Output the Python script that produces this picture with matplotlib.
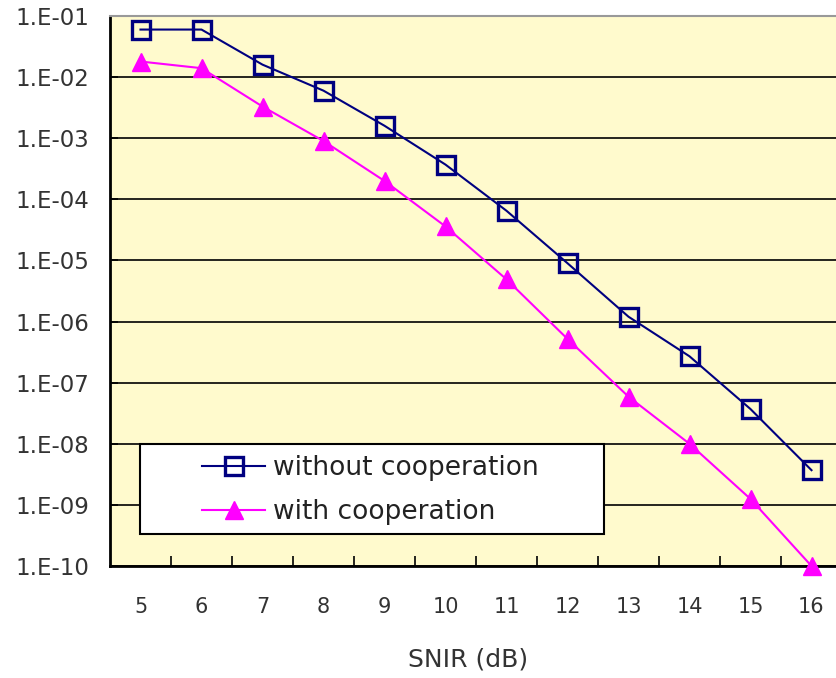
import matplotlib
matplotlib.use("Agg")
import matplotlib.pyplot as plt
from matplotlib.patches import Rectangle
from matplotlib.ticker import FixedLocator, NullFormatter

plt.rcParams['font.family'] = ['DejaVu Sans']

snir = [5, 6, 7, 8, 9, 10, 11, 12, 13, 14, 15, 16]
ber_without = [6.0e-2, 6.0e-2, 1.6e-2, 6.0e-3, 1.6e-3, 3.7e-4,
               6.5e-5, 9.0e-6, 1.2e-6, 2.7e-7, 3.7e-8, 3.7e-9]
ber_with = [1.8e-2, 1.4e-2, 3.3e-3, 9.0e-4, 2.0e-4, 3.6e-5,
            4.9e-6, 5.2e-7, 5.9e-8, 1.0e-8, 1.25e-9, 1.0e-10]
decades = [1e-10, 1e-9, 1e-8, 1e-7, 1e-6, 1e-5, 1e-4, 1e-3, 1e-2, 1e-1]
decade_labels = ["1.E-10", "1.E-09", "1.E-08", "1.E-07", "1.E-06",
                 "1.E-05", "1.E-04", "1.E-03", "1.E-02", "1.E-01"]

W, H = 836, 678
x0, y0, aw, ah = 110, 112, 732, 550

fig = plt.figure(figsize=(W / 100, H / 100), dpi=100)
ax = fig.add_axes([x0 / W, y0 / H, aw / W, ah / H])
ax.set_facecolor("#FFFACD")

pos = list(range(len(snir)))
ax.plot(pos, ber_without, color="#000080", lw=1.5, marker="s", ms=12.5,
        mfc="none", mec="#000080", mew=2.4, clip_on=False,
        label="without cooperation", zorder=4)
ax.plot(pos, ber_with, color="#FF00FF", lw=1.5, marker="^", ms=13.5,
        mfc="#FF00FF", mec="#FF00FF", clip_on=False,
        label="with cooperation", zorder=4)

ax.set_yscale("log")
ax.set_ylim(1e-10, 1e-1)
ax.set_xlim(-0.5, len(snir) - 0.5)

ax.yaxis.set_major_locator(FixedLocator(decades))
ax.yaxis.set_minor_locator(FixedLocator([]))
ax.set_yticklabels(decade_labels)
ax.set_xticks(pos)
ax.set_xticklabels([str(s) for s in snir])
ax.xaxis.set_minor_locator(FixedLocator([p + 0.5 for p in pos[:-1]]))
ax.xaxis.set_minor_formatter(NullFormatter())

ax.grid(axis="y", color="black", lw=1.2, zorder=1)
ax.tick_params(axis="x", which="major", length=0, pad=22,
               labelsize=15, labelcolor="#333333")
ax.tick_params(axis="x", which="minor", direction="in", length=7, width=1.2)
ax.tick_params(axis="y", which="major", direction="in", length=6, width=1.2,
               pad=15, labelsize=16.5, labelcolor="#333333")

for side in ("left", "bottom"):
    ax.spines[side].set_linewidth(2)
    ax.spines[side].set_color("black")
ax.spines["top"].set_color("#999999")
ax.spines["top"].set_linewidth(1.5)
ax.spines["right"].set_visible(False)

ax.set_xlabel("SNIR (dB)", fontsize=18, color="#333333")
ax.xaxis.set_label_coords((468 - x0) / aw, -(648 - 566) / ah)

# white legend box, legend itself sits frameless inside it
box = Rectangle(((140 - x0) / aw, (566 - 534) / ah), 464 / aw, 90 / ah,
                transform=ax.transAxes, facecolor="white", edgecolor="black",
                lw=1.5, zorder=5)
ax.add_patch(box)
leg = ax.legend(loc="upper left",
                bbox_to_anchor=((202 - x0) / aw, (566 - 455) / ah),
                fontsize=19, frameon=False, handlelength=2.4, borderpad=0,
                labelspacing=0.7, handletextpad=0.3, borderaxespad=0)
leg.set_zorder(6)
for t in leg.get_texts():
    t.set_color("#222222")

fig.savefig("out.png", dpi=100, facecolor="white")
